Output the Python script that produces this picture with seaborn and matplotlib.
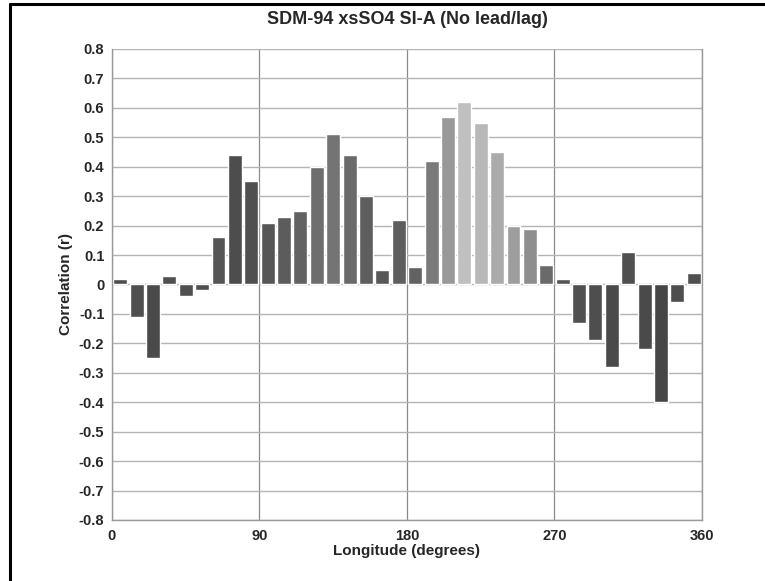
import seaborn as sns
import matplotlib.pyplot as plt
import pandas as pd
import numpy as np

# longitude bins (left edge, degrees) and correlation per bin
longitude = list(range(0, 360, 10))
correlation = [0.02, -0.11, -0.25, 0.03, -0.04, -0.02, 0.16, 0.44, 0.35, 0.21,
               0.23, 0.25, 0.40, 0.51, 0.44, 0.30, 0.05, 0.22, 0.06, 0.42,
               0.57, 0.62, 0.55, 0.45, 0.20, 0.19, 0.065, 0.02, -0.13, -0.19,
               -0.28, 0.11, -0.22, -0.40, -0.06, 0.04]
y_ticks = [-0.8, -0.7, -0.6, -0.5, -0.4, -0.3, -0.2, -0.1, 0, 0.1, 0.2, 0.3, 0.4, 0.5, 0.6, 0.7, 0.8]
y_tick_labels = ['-0.8', '-0.7', '-0.6', '-0.5', '-0.4', '-0.3', '-0.2', '-0.1', '0',
                 '0.1', '0.2', '0.3', '0.4', '0.5', '0.6', '0.7', '0.8']
x_ticks = [0, 90, 180, 270, 360]

# grey shade of each bar (as printed)
bar_grays = ['#4e4e4e', '#4e4e4e', '#4a4a4a', '#505050', '#505050', '#505050', '#555555', '#4d4d4d',
             '#505050', '#565656', '#5c5c5c', '#626262', '#6e6e6e', '#747474', '#6a6a6a', '#5e5e5e',
             '#585858', '#5e5e5e', '#626262', '#7a7a7a', '#999999', '#c0c0c0', '#b8b8b8', '#ababab',
             '#9e9e9e', '#8e8e8e', '#6a6a6a', '#555555', '#505050', '#4e4e4e', '#4a4a4a', '#505050',
             '#4a4a4a', '#464646', '#4e4e4e', '#505050']

df = pd.DataFrame({'longitude': longitude, 'correlation': correlation})
df['center'] = df['longitude'] + 5  # middle of each 10 degree bin

sns.set_style('white')
plt.rcParams['font.family'] = ['Liberation Sans', 'DejaVu Sans']
plt.rcParams['font.weight'] = 'bold'

fig = plt.figure(figsize=(7.65, 5.81), dpi=100)
ax = fig.add_axes([0.1464, 0.105, 0.7712, 0.8107])

sns.barplot(data=df, x='center', y='correlation', hue='center', palette=bar_grays,
            native_scale=True, width=0.85, legend=False, saturation=1, ax=ax)

ax.set_xlim(0, 360)
ax.set_ylim(-0.8, 0.8)
ax.set_xticks(x_ticks)
ax.set_xticklabels([str(t) for t in x_ticks], fontsize=10.5, fontweight='bold')
ax.set_yticks(y_ticks)
ax.set_yticklabels(y_tick_labels, fontsize=10.5, fontweight='bold')
ax.tick_params(axis='y', direction='inout', length=5, color='#555555', pad=3)
ax.tick_params(axis='x', direction='inout', length=5, color='#555555', pad=4)

ax.grid(True, axis='y', color='#b4b4b4', linewidth=1)
ax.grid(True, axis='x', color='#8a8a8a', linewidth=0.9)
ax.set_axisbelow(True)
for side in ['left', 'right', 'bottom']:
    ax.spines[side].set_color('#999999')
    ax.spines[side].set_linewidth(1)
ax.spines['top'].set_visible(False)

ax.set_title('SDM-94 xsSO4 SI-A (No lead/lag)', fontsize=13, fontweight='bold', pad=18)
ax.set_xlabel('Longitude (degrees)', fontsize=11, fontweight='bold', labelpad=1)
ax.set_ylabel('Correlation (r)', fontsize=11, fontweight='bold', labelpad=4)

# scanned page frame: left and top edges
fig.add_artist(plt.Line2D([0.013, 0.013], [0.0, 0.993], color='black', linewidth=2.2, transform=fig.transFigure))
fig.add_artist(plt.Line2D([0.013, 1.0], [0.993, 0.993], color='black', linewidth=2.2, transform=fig.transFigure))

fig.savefig('out.png', dpi=100)
